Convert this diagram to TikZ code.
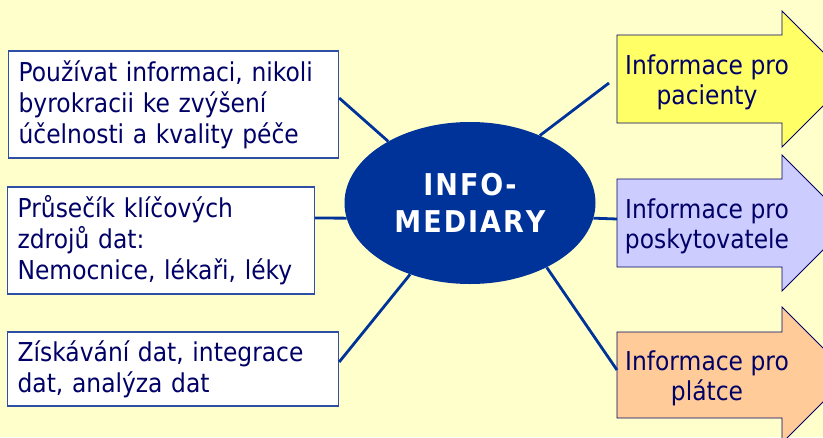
\documentclass[tikz,border=0pt]{standalone}
\usepackage{fontspec}
\setmainfont{DejaVu Sans}[FakeStretch=0.9]
\usetikzlibrary{shapes.geometric}
\definecolor{bgyellow}{HTML}{FFFFCC}
\definecolor{ellblue}{HTML}{003399}
\definecolor{navy}{HTML}{000066}
\definecolor{boxline}{HTML}{2E4FA3}
\definecolor{arrowyellow}{HTML}{FFFF66}
\definecolor{arrowlav}{HTML}{CCCCFF}
\definecolor{arroworange}{HTML}{FFCC99}
\begin{document}
\begin{tikzpicture}[x=1pt,y=-1pt,
  infobox/.style={draw=boxline, line width=1.2pt, fill=white, text=navy, align=left,
    inner xsep=10pt, inner ysep=0pt, anchor=west, font=\fontsize{26}{31}\selectfont},
  link/.style={draw=ellblue, line width=2.8pt},
  arrowshape/.style={draw=navy, line width=0.8pt},
  arrowtext/.style={text=navy, align=center, font=\fontsize{26}{30}\selectfont, inner sep=0pt, yshift=-3pt}]
\fill[bgyellow] (0,0) rectangle (823,437);
\useasboundingbox (0,0) rectangle (823,437);

% arrows
\filldraw[arrowshape, fill=arrowyellow] (617,35) -- (782,35) -- (782,11) -- (850,79) -- (782,147) -- (782,123) -- (617,123) -- cycle;
\filldraw[arrowshape, fill=arrowlav] (617,179) -- (782,179) -- (782,155) -- (850,223) -- (782,291) -- (782,267) -- (617,267) -- cycle;
\filldraw[arrowshape, fill=arroworange] (617,332) -- (782,332) -- (782,307) -- (850,375) -- (782,443) -- (782,418) -- (617,418) -- cycle;
\node[arrowtext] (a1) at (707,79) {Informace pro\\pacienty};
\node[arrowtext] (a2) at (707,223) {Informace pro\\poskytovatele};
\node[arrowtext] (a3) at (707,375) {Informace pro\\plátce};
\coordinate (a1in) at (609,83);
\coordinate (a2in) at (617,219);
\coordinate (a3in) at (617,370);

% boxes
\node[infobox, text width=310pt, minimum height=107pt] (b1) at (8,104.5)
  {Používat informaci, nikoli\\byrokracii ke zvýšení\\účelnosti a kvality péče};
\node[infobox, text width=287pt, minimum height=107pt] (b2) at (7,240.5)
  {Průsečík klíčových\\zdrojů dat:\\Nemocnice, lékaři, léky};
\node[infobox, text width=311pt, minimum height=74pt] (b3) at (7,369)
  {Získávání dat, integrace\\dat, analýza dat};

% ellipse
\node[ellipse, fill=ellblue, minimum width=251pt, minimum height=162pt, inner sep=0pt,
  text=white, align=center, font=\fontsize{30}{37}\selectfont\bfseries] (ell) at (470,203)
  {I\kern2pt N\kern2pt F\kern2pt O\kern2pt -\\M\kern2pt E\kern2pt D\kern2pt I\kern2pt A\kern2pt R\kern2pt Y};

% connectors
\draw[link] ([yshift=6.5pt]b1.east) -- (ell.143);
\draw[link] (ell.44) -- (a1in);
\draw[link] ([yshift=22.5pt]b2.east) -- (ell.187);
\draw[link] (ell.353) -- (a2in);
\draw[link] ([yshift=7pt]b3.east) -- (ell.230);
\draw[link] (ell.320) -- (a3in);
\end{tikzpicture}
\end{document}
